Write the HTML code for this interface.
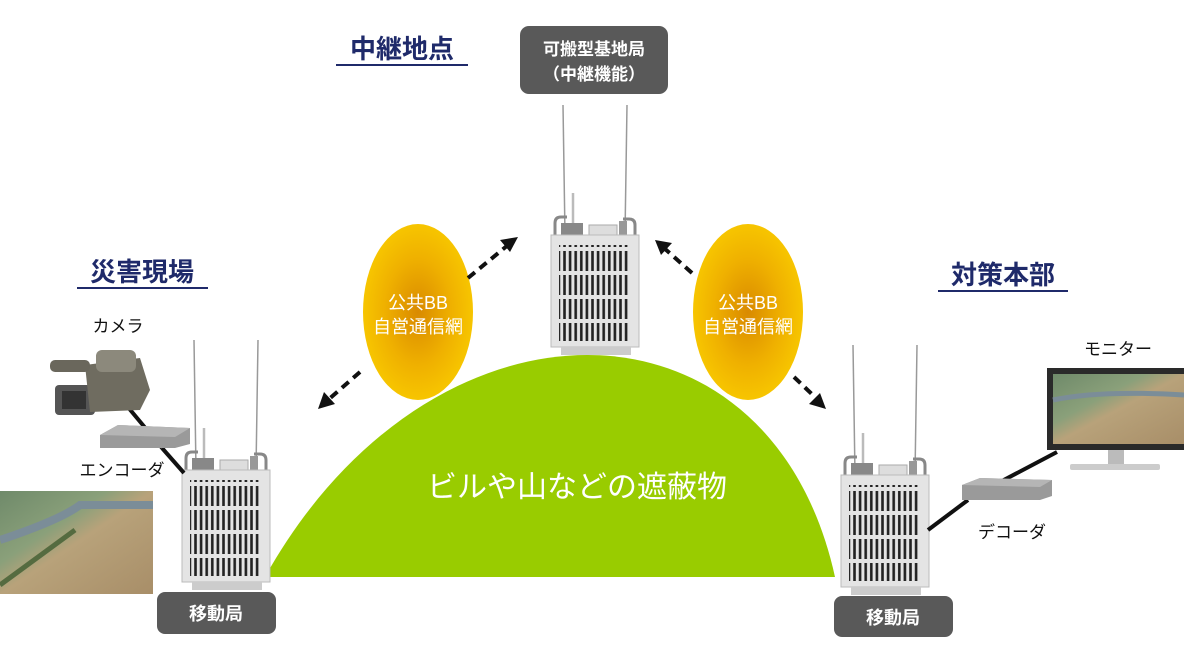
<!DOCTYPE html>
<html><head><meta charset="utf-8"><style>
html,body{margin:0;padding:0;background:#fff}
body{width:1184px;height:660px;overflow:hidden;position:relative;font-family:"Liberation Sans","Noto Sans CJK JP",sans-serif}
</style></head><body>
<svg width="1184" height="660" viewBox="0 0 1184 660" xmlns="http://www.w3.org/2000/svg" style="position:absolute;left:0;top:0">
<defs>
<radialGradient id="og" cx="50%" cy="50%" r="50%">
<stop offset="0" stop-color="#d98a00"/><stop offset="0.6" stop-color="#efb000"/><stop offset="1" stop-color="#f7c500"/>
</radialGradient>
<pattern id="slots" x="0" y="0" width="5.6" height="24" patternUnits="userSpaceOnUse">
<rect x="1" y="2" width="2.6" height="20" fill="#222"/>
</pattern>
<linearGradient id="photo" x1="0" y1="0" x2="1" y2="1">
<stop offset="0" stop-color="#6f8a6a"/><stop offset="0.35" stop-color="#8aa07a"/><stop offset="0.5" stop-color="#b8a27a"/><stop offset="1" stop-color="#a88e68"/>
</linearGradient>
<g id="radio">
<line x1="12" y1="0" x2="14" y2="130" stroke="#999" stroke-width="1.5"/>
<line x1="76" y1="0" x2="74" y2="130" stroke="#999" stroke-width="1.5"/>
<line x1="22" y1="88" x2="22" y2="130" stroke="#bbb" stroke-width="2.5"/>
<path d="M4 134 V118 Q4 112 10 112 H16" fill="none" stroke="#888" stroke-width="3"/>
<path d="M84 134 V120 Q84 114 78 114 H72" fill="none" stroke="#888" stroke-width="3"/>
<rect x="10" y="118" width="22" height="14" fill="#888"/>
<rect x="38" y="120" width="28" height="12" fill="#ddd" stroke="#aaa"/>
<rect x="68" y="116" width="8" height="16" fill="#999"/>
<rect x="0" y="130" width="88" height="112" fill="#e4e4e4" stroke="#bbb"/>
<rect x="8" y="140" width="70" height="96" fill="url(#slots)"/>
<rect x="10" y="242" width="70" height="8" fill="#ccc"/>
</g>
</defs>

<!-- hill -->
<path d="M265 577 C430 281 770 281 835 577 Z" fill="#99cc00"/>
<text x="577" y="497" font-size="30" fill="#fff" text-anchor="middle">ビルや山などの遮蔽物</text>

<!-- ellipses -->
<ellipse cx="418" cy="312" rx="55" ry="88" fill="url(#og)"/>
<ellipse cx="748" cy="312" rx="55" ry="88" fill="url(#og)"/>
<text x="418" y="309" font-size="18" fill="#fff" text-anchor="middle">公共BB</text>
<text x="418" y="333" font-size="18" fill="#fff" text-anchor="middle">自営通信網</text>
<text x="748" y="309" font-size="18" fill="#fff" text-anchor="middle">公共BB</text>
<text x="748" y="333" font-size="18" fill="#fff" text-anchor="middle">自営通信網</text>

<!-- arrows -->
<g stroke="#111" stroke-width="4" stroke-dasharray="9 6" fill="none">
<line x1="468" y1="278" x2="508" y2="245"/>
<line x1="360" y1="372" x2="328" y2="400"/>
<line x1="692" y1="273" x2="664" y2="248"/>
<line x1="794" y1="377" x2="817" y2="399"/>
</g>
<g fill="#111">
<polygon points="518,237 500,240 510,252"/>
<polygon points="318,409 324,392 335,404"/>
<polygon points="655,240 672,243 661,255"/>
<polygon points="826,409 809,404 820,393"/>
</g>

<!-- radios -->
<use href="#radio" x="182" y="340"/>
<use href="#radio" x="551" y="105"/>
<use href="#radio" x="841" y="345"/>

<!-- left side devices -->
<line x1="122" y1="400" x2="162" y2="448" stroke="#111" stroke-width="4"/>
<line x1="162" y1="448" x2="184" y2="473" stroke="#111" stroke-width="4"/>
<g>
<rect x="55" y="385" width="40" height="30" rx="4" fill="#555"/>
<rect x="62" y="391" width="24" height="18" fill="#333"/>
<path d="M85 365 L140 358 L150 390 L140 410 L90 412 Z" fill="#6f6c60"/>
<rect x="96" y="350" width="40" height="22" rx="6" fill="#8c897c"/>
<rect x="50" y="360" width="40" height="12" rx="5" fill="#6a675c"/>
</g>
<path d="M100 435 L118 425 L190 428 L190 444 L175 448 L100 448 Z" fill="#9a9a9a"/>
<path d="M100 435 L175 437 L190 428 L118 425 Z" fill="#b5b5b5"/>
<text x="118" y="332" font-size="17" fill="#111" text-anchor="middle">カメラ</text>
<text x="122" y="476" font-size="17" fill="#111" text-anchor="middle">エンコーダ</text>
<rect x="0" y="491" width="153" height="103" fill="url(#photo)"/>
<path d="M0 540 Q60 520 80 505 L153 505" stroke="#7b8d98" stroke-width="8" fill="none"/>
<path d="M0 585 L75 530" stroke="#556b40" stroke-width="5" fill="none"/>

<!-- right side devices -->
<line x1="928" y1="530" x2="968" y2="500" stroke="#111" stroke-width="4"/>
<line x1="1000" y1="482" x2="1057" y2="452" stroke="#111" stroke-width="4"/>
<path d="M962 485 L980 478 L1052 480 L1052 496 L1040 500 L962 500 Z" fill="#9a9a9a"/>
<path d="M962 485 L1040 487 L1052 480 L980 478 Z" fill="#b5b5b5"/>
<rect x="1047" y="368" width="137" height="82" fill="#2a2a2a"/>
<rect x="1053" y="374" width="131" height="70" fill="url(#photo)"/>
<path d="M1053 400 Q1100 390 1184 395" stroke="#7b8d98" stroke-width="5" fill="none"/>
<rect x="1108" y="450" width="16" height="14" fill="#bbb"/>
<rect x="1070" y="464" width="90" height="6" rx="2" fill="#ccc"/>
<text x="1118" y="355" font-size="17" fill="#111" text-anchor="middle">モニター</text>
<text x="1012" y="538" font-size="17" fill="#111" text-anchor="middle">デコーダ</text>

<!-- titles -->
<g font-size="26" font-weight="bold" fill="#1f2a6a" text-anchor="middle">
<text x="402" y="58">中継地点</text>
<text x="142" y="281">災害現場</text>
<text x="1003" y="284">対策本部</text>
</g>
<g stroke="#1f2a6a" stroke-width="2">
<line x1="336" y1="65" x2="468" y2="65"/>
<line x1="77" y1="288" x2="208" y2="288"/>
<line x1="938" y1="291" x2="1068" y2="291"/>
</g>

<!-- gray boxes -->
<rect x="520" y="26" width="148" height="68" rx="9" fill="#595959"/>
<text x="594" y="55" font-size="17" font-weight="bold" fill="#fff" text-anchor="middle">可搬型基地局</text>
<text x="594" y="80" font-size="17" font-weight="bold" fill="#fff" text-anchor="middle">（中継機能）</text>
<rect x="157" y="592" width="119" height="42" rx="8" fill="#595959"/>
<text x="216" y="620" font-size="18" font-weight="bold" fill="#fff" text-anchor="middle">移動局</text>
<rect x="834" y="596" width="119" height="41" rx="8" fill="#595959"/>
<text x="893" y="624" font-size="18" font-weight="bold" fill="#fff" text-anchor="middle">移動局</text>
</svg>
</body></html>
